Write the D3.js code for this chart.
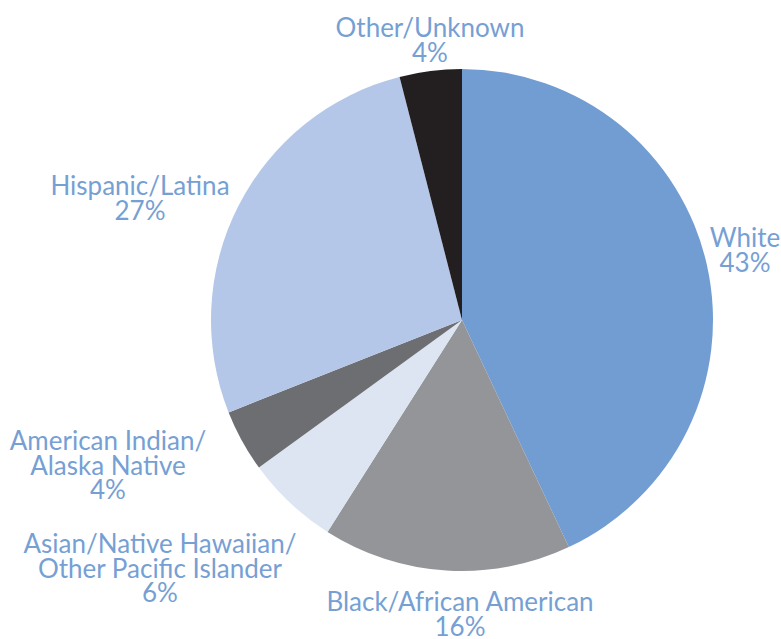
<!DOCTYPE html>
<html>
<head>
<meta charset="utf-8">
<script src="https://cdn.jsdelivr.net/npm/d3@7"></script>
<style>
  body { margin: 0; background: #fff; }
  text { font-family: "Lato", sans-serif; fill: #769fd4; }
</style>
</head>
<body>
<svg id="pie-svg"></svg>
<script>
let categories = ["White", "Black/African American", "Asian/Native Hawaiian/Other Pacific Islander",
    "American Indian/Alaska Native", "Hispanic/Latina", "Other/Unknown"]
let shares = [43, 16, 6, 4, 27, 4]
let labelLines = [
    ["White", "43%"],
    ["Black/African American", "16%"],
    ["Asian/Native Hawaiian/", "Other Pacific Islander", "6%"],
    ["American Indian/", "Alaska Native", "4%"],
    ["Hispanic/Latina", "27%"],
    ["Other/Unknown", "4%"]
]
let colors = ["#729dd3", "#939598", "#dde5f3", "#6d6e71", "#b4c7e8", "#231f20"]

// where each label block sits (center x, first baseline y)
let labelPos = [
    [745, 247], [460, 611], [160, 553], [108, 450], [140, 195], [430, 37]
]

let width = 781, height = 639
let cx = 462, cy = 320, radius = 251
let lineHeight = 24.5

let svg = d3.select("#pie-svg").attr("width", width).attr("height", height)

let data = shares.map((v, i) => ({name: categories[i], value: v, i: i}))

let pie = d3.pie().sort(null).value(d => d.value)
let arc = d3.arc().innerRadius(0).outerRadius(radius)

let g = svg.append("g").attr("transform", `translate(${cx}, ${cy})`)

g.selectAll("path").data(pie(data)).join("path")
    .attr("d", arc)
    .attr("fill", d => colors[d.data.i])

// one text per line so the lines stay tight like the original
let lines = []
data.forEach(function(d){
    labelLines[d.i].forEach((t, k) => {
        lines.push({t: t, x: labelPos[d.i][0], y: labelPos[d.i][1] + k * lineHeight})
    })
})

svg.selectAll("text.lbl").data(lines).join("text")
    .attr("class", "lbl")
    .attr("text-anchor", "middle")
    .attr("font-size", 26)
    .attr("x", d => d.x)
    .attr("y", d => d.y)
    .text(d => d.t)
</script>
</body>
</html>
